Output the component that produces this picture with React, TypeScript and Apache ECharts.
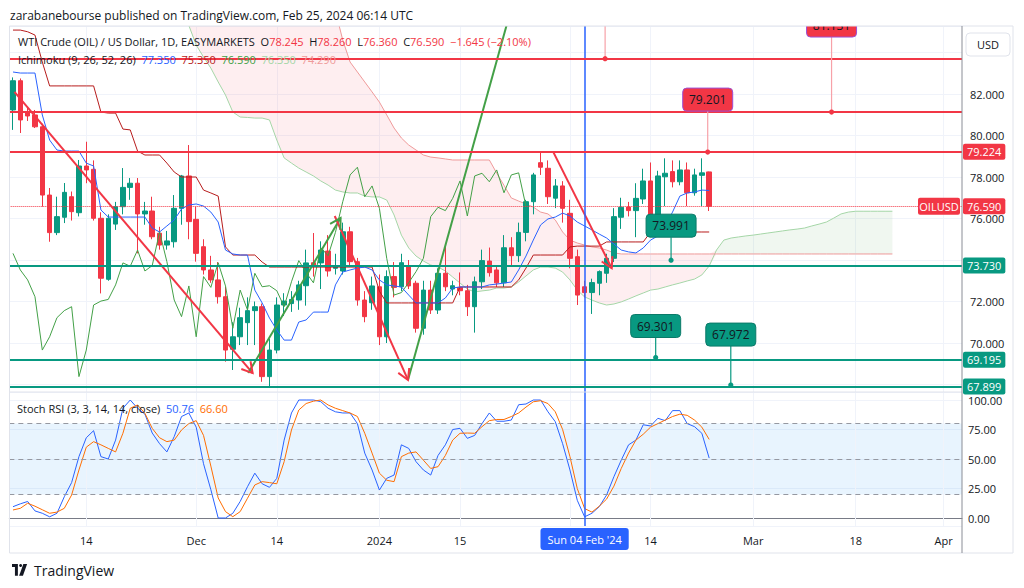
import React, { useEffect, useRef } from "react";
import * as echarts from "echarts";

// ---------------- data ----------------
const firstDate = "2023-11-02";
const holidays = ["2023-12-25", "2024-01-01"];
const barCount = 130;

const opens = [81.23, 82.64, 81.15, 80.99, 80.42, 77.13, 75.32, 76.06, 77.05, 76.28,
  78.53, 78.37, 76.01, 73.07, 75.73, 76.57, 77.5, 77.7, 76.22, 76.36,
  75.29, 74.72, 74.88, 76.49, 78.05, 75.96, 74.64, 73.52, 73.04, 72.23,
  69.7, 70.3, 70.98, 71.56, 71.75, 68.38, 69.66, 71.83, 71.9, 72.07,
  72.76, 73.87, 73.86, 74.43, 73.6, 73.47, 75.36, 73.92, 72.07, 71.94,
  72.71, 70.3, 73.2, 72.71, 73.71, 72.88, 70.71, 72.55, 71.59, 73.36,
  72.6, 72.68, 72.52, 71.75, 72.95, 73.95, 73.52, 72.9, 74.59, 74.21,
  75.33, 76.81, 78.69, 78.42, 76.98, 77.57, 76.25, 74.16, 72.71, 72.43,
  72.88, 73.36, 74.08, 76.06, 76.55, 76.38, 76.94, 77.81, 76.12, 78.01,
  78.26, 77.77, 78.34, 77.24, 78.08, 78.245];
const highs = [82.8, 82.75, 81.4, 81.23, 80.57, 77.47, 77.05, 77.71, 77.3, 78.82,
  79.7, 78.8, 76.3, 76.2, 76.8, 78.43, 77.95, 77.95, 76.8, 77.05,
  75.6, 75.4, 77.13, 78.1, 79.54, 76.57, 75.0, 74.2, 73.9, 72.7,
  71.0, 71.7, 72.2, 72.0, 71.9, 70.2, 72.2, 72.4, 72.5, 73.0,
  74.5, 75.3, 74.9, 75.2, 74.3, 75.8, 75.6, 74.1, 72.5, 73.2,
  73.3, 73.5, 73.9, 74.3, 74.0, 73.0, 73.0, 73.0, 73.6, 74.8,
  73.0, 73.4, 72.8, 73.2, 74.5, 74.6, 73.7, 75.2, 75.1, 75.8,
  76.9, 78.2, 79.22, 78.8, 77.9, 77.8, 76.9, 74.5, 73.0, 73.1,
  73.5, 74.3, 76.5, 77.0, 76.8, 77.7, 78.4, 78.7, 78.3, 78.9,
  78.8, 78.8, 78.7, 78.4, 78.9, 78.26];
const lows = [80.27, 80.12, 80.7, 80.36, 76.57, 74.88, 75.2, 75.78, 75.9, 76.1,
  77.7, 75.9, 72.39, 73.0, 75.45, 76.2, 76.9, 74.32, 75.7, 75.0,
  74.5, 74.5, 74.6, 75.7, 75.0, 73.92, 73.3, 72.9, 71.9, 69.1,
  68.7, 69.9, 69.9, 69.9, 68.13, 67.83, 69.5, 71.3, 71.5, 71.6,
  71.8, 73.2, 72.6, 73.2, 73.3, 73.3, 73.7, 71.8, 71.0, 71.6,
  69.9, 70.0, 72.2, 72.5, 72.6, 70.5, 70.4, 71.4, 71.4, 72.5,
  72.3, 72.3, 71.3, 70.5, 72.6, 73.2, 72.7, 72.7, 73.7, 73.9,
  74.9, 76.2, 78.1, 76.7, 76.5, 75.8, 73.6, 71.83, 72.2, 71.4,
  72.3, 72.9, 73.9, 75.5, 76.1, 75.1, 76.7, 75.9, 75.8, 76.6,
  77.5, 77.6, 76.6, 77.1, 76.6, 76.36];
const closes = [82.64, 80.75, 80.94, 80.42, 77.13, 75.32, 76.09, 77.26, 76.33, 78.53,
  78.34, 76.01, 73.12, 76.01, 76.57, 77.5, 77.7, 76.22, 76.36, 75.12,
  74.72, 74.92, 76.49, 78.05, 75.85, 74.32, 73.52, 73.04, 72.23, 69.66,
  70.3, 71.22, 71.56, 71.75, 68.38, 69.66, 71.83, 72.02, 72.1, 72.8,
  73.86, 73.7, 74.48, 73.47, 73.73, 75.36, 73.92, 72.07, 71.27, 72.75,
  70.3, 73.2, 72.68, 73.87, 72.75, 70.71, 72.55, 71.59, 73.36, 72.71,
  72.76, 72.52, 71.75, 72.95, 73.97, 73.39, 72.9, 74.59, 74.21, 75.33,
  76.81, 78.1, 78.47, 77.05, 77.57, 76.49, 74.08, 72.31, 72.43, 72.91,
  73.44, 74.08, 76.09, 76.54, 76.38, 76.97, 77.81, 76.12, 78.05, 78.18,
  77.77, 78.34, 77.24, 78.1, 78.2, 76.59];

const tenkan = [83.06, 83.01, 83.01, 83.01, 80.99, 79.78, 79.3, 79.25, 79.25, 79.25,
  78.67, 78.53, 76.41, 76.07, 76.07, 76.07, 76.07, 76.07, 76.07, 75.54,
  75.35, 75.64, 75.93, 76.46, 76.65, 76.7, 76.6, 76.31, 75.83, 74.48,
  74.29, 74.24, 74.24, 72.55, 71.93, 71.2, 70.63, 70.14, 70.14, 71.01,
  71.11, 71.49, 71.49, 71.49, 72.8, 73.42, 73.52, 73.61, 73.66, 73.52,
  73.04, 72.8, 72.75, 72.7, 72.31, 71.93, 71.93, 71.93, 71.93, 72.17,
  72.65, 72.7, 72.7, 72.7, 72.7, 72.8, 72.84, 72.89, 72.94, 73.52,
  74.19, 74.96, 75.69, 75.98, 76.07, 76.26, 76.12, 75.83, 75.64, 75.45,
  75.25, 75.06, 74.77, 74.48, 74.39, 74.34, 74.58, 74.96, 75.16, 75.64,
  76.31, 77.08, 77.23, 77.28, 77.37, 77.35];
const kijun = [85.08, 85.08, 85.0, 84.84, 83.54, 82.39, 82.39, 82.39, 82.39, 82.39,
  82.39, 82.39, 81.13, 81.08, 81.08, 80.31, 80.27, 79.25, 79.06, 79.06,
  79.06, 78.67, 78.24, 78.0, 78.0, 78.0, 77.37, 77.23, 77.08, 74.63,
  74.24, 74.24, 74.24, 74.24, 73.9, 73.66, 73.66, 73.66, 73.66, 73.66,
  73.66, 73.66, 73.66, 73.66, 73.66, 73.66, 73.66, 73.66, 73.66, 73.66,
  72.5, 71.93, 71.93, 71.93, 71.93, 71.93, 71.93, 71.93, 71.93, 71.93,
  71.93, 72.7, 72.7, 72.7, 72.7, 72.7, 72.7, 72.7, 72.7, 73.04,
  73.61, 74.24, 74.24, 74.24, 74.24, 74.24, 74.63, 74.67, 74.67, 74.67,
  74.67, 74.87, 74.87, 74.87, 74.87, 74.87, 74.87, 75.35, 75.35, 75.35,
  75.35, 75.35, 75.35, 75.35, 75.35, 75.35];
const chikouShift = 25;

const senkouStart = 22;
const senkouA = [87.0, 86.0, 85.3, 84.36, 83.78, 83.25, 82.58, 81.95,
  81.13, 80.89, 80.87, 80.84, 80.84, 80.75, 79.78, 78.92, 78.67, 78.43,
  78.24, 78.05, 77.81, 77.61, 77.37, 77.28, 77.23, 77.23, 77.08, 77.04,
  77.04, 76.89, 76.17, 75.2, 74.58, 74.19, 73.95, 73.76, 73.66, 73.47,
  73.18, 72.89, 72.6, 72.46, 72.51, 72.55, 72.65, 72.65, 72.7, 72.94,
  73.23, 73.52, 73.66, 73.66, 73.61, 73.42, 73.04, 72.55, 72.22, 72.07,
  71.93, 71.83, 71.88, 71.98, 72.12, 72.27, 72.41, 72.55, 72.6, 72.7,
  72.8, 72.89, 72.99, 73.08, 73.28, 73.71, 74.48, 74.96, 75.06, 75.11,
  75.16, 75.2, 75.25, 75.3, 75.35, 75.4, 75.45, 75.49, 75.54, 75.64,
  75.73, 75.83, 76.02, 76.22, 76.31, 76.35, 76.35, 76.35, 76.35, 76.35, 76.35];
const senkouB = [87, 87, 87, 87, 87, 87, 87, 87,
  87, 87, 87, 87, 87, 87, 87, 87, 87, 87,
  87, 87, 87, 87, 86.0, 84.6, 83.54, 83.06, 82.58, 82.1,
  81.61, 80.99, 80.36, 79.88, 79.54, 79.3, 79.06, 78.96, 78.92, 78.87,
  78.82, 78.82, 78.82, 78.82, 78.82, 78.82, 78.19, 77.6, 76.99, 76.84,
  76.7, 76.55, 76.31, 76.22, 75.93, 75.35, 74.96, 74.82, 74.72, 74.63,
  74.58, 74.48, 74.34, 74.29, 74.29, 74.29, 74.29, 74.29, 74.29, 74.29,
  74.29, 74.29, 74.29, 74.29, 74.29, 74.29, 74.29, 74.29, 74.29, 74.29,
  74.29, 74.29, 74.29, 74.29, 74.29, 74.29, 74.29, 74.29, 74.29, 74.29,
  74.29, 74.29, 74.29, 74.29, 74.29, 74.29, 74.29, 74.29, 74.29, 74.29, 74.29];

const stochK = [9.6, 12, 14, 6, 4, 1, 4, 18, 30, 52,
  68, 74, 52, 50, 66, 93, 100, 93, 88, 72,
  63, 56, 69, 86, 89, 77, 46, 24, 0, 0,
  4, 14, 26.5, 38, 29, 26, 33.6, 66, 89, 100,
  100, 100, 98.6, 93, 90, 89, 89, 80, 55, 40.7,
  23.7, 33.6, 36.4, 62, 59, 47.7, 40.7, 36.4, 53, 62,
  75, 76, 67.5, 70, 80, 89, 82, 82, 83, 96,
  96.6, 100, 100, 90, 81.6, 63, 40.7, 15, 1, 4,
  9.6, 19.5, 35, 49, 62, 66, 79, 78, 84.5, 82.5,
  91, 91, 80, 77.4, 71.8, 50.76];
const stochD = [6.8, 8.2, 12.5, 10, 7, 4, 5, 8.2, 19.5, 40.7,
  60, 64.7, 62, 59, 56, 71.8, 93, 95.8, 88.7, 76,
  68, 64.7, 66, 74.6, 80, 82.5, 70, 44, 17, 5.4,
  1.1, 5.4, 16.7, 28, 30.8, 30, 29, 47.7, 74.6, 91.5,
  97, 99, 100, 95.8, 93, 91, 89, 86, 71.8, 55,
  38, 32, 30.8, 52, 55, 56, 49, 42, 43.5, 53,
  66, 71.8, 72, 71.8, 77.4, 82.5, 83.5, 83.5, 86, 89,
  94, 98.5, 99.4, 97, 90, 75, 52, 25, 8, 5,
  10, 16, 27, 42, 55, 66, 71, 77, 80, 83,
  86, 88, 87, 83, 77, 66.6];

const redLevels = [83.70, 81.13, 79.224];
const redLevelTagged = [false, false, true];
const greenLevels = [73.73, 69.195, 67.899];
const lastPrice = 76.59;
const crosshairBar = 78;
const crosshairText = "Sun 04 Feb '24";

// date -> tick text ("" = grid line only, label hidden under the crosshair tag)
const tickLabels: Record<string, string> = {
  "2023-11-14": "14", "2023-12-01": "Dec", "2023-12-14": "14", "2024-01-02": "2024",
  "2024-01-15": "15", "2024-02-01": "", "2024-02-14": "14", "2024-03-01": "Mar",
  "2024-03-18": "18", "2024-04-01": "Apr",
};
const hiddenPriceTicks = [84, 74, 68];

// hand-drawn trend lines: [barPosition, price]
const trendDownA = [[0.2, 82.1], [32.7, 68.55]];
const trendUpB = [[32.1, 68.55], [44.7, 76.02]];
const trendDownC = [[43.9, 76.12], [53.9, 68.22]];
const trendUpD = [[53.9, 68.22], [70, 88.67]];
const trendDownE = [[73.7, 79.224], [81.7, 73.61]];

// price notes
const noteBars = [94.8, 89.8, 87.7, 97.95, 111.7, 80.8];
const noteValues = [79.201, 73.991, 69.301, 67.972, 81.131, 83.70];
const noteIsRed = [true, false, false, false, true, true];

// ---------------- styling / layout ----------------
const FONT = "'Open Sans', 'Noto Sans', sans-serif";
const RED = "#F23645";
const GREEN = "#089981";
const noteLift = [41, 23, 20, 39, 75, 40];
const plotTop = 26, mainBottom = 392, stochBottom = 526, axisRightX = 962;

function buildDates(): string[] {
  const out: string[] = [];
  const d = new Date(firstDate + "T00:00:00Z");
  while (out.length < barCount) {
    const iso = d.toISOString().slice(0, 10);
    if (d.getUTCDay() !== 6 && holidays.indexOf(iso) < 0) out.push(iso);
    d.setUTCDate(d.getUTCDate() + 1);
  }
  return out;
}

export default function App() {
  const ref = useRef<HTMLDivElement>(null);

  useEffect(() => {
    const el = ref.current;
    if (!el) return;
    const chart = echarts.init(el, undefined, { renderer: "svg" });
    const dates = buildDates();
    const n = dates.length;
    const nPast = closes.length;

    const yMin = 82 - (mainBottom - 94) / 20.75;
    const yMax = 82 + (94 - plotTop) / 20.75;
    const sPx = (518 - 400) / 100;
    const sMin = -(stochBottom - 518) / sPx;
    const sMax = 100 + (400 - mainBottom) / sPx;

    const candleData = opens.map((o, i) => [o, closes[i], lows[i], highs[i]]);
    const pad = (arr: number[], start: number) =>
      dates.map((_, i) => { const j = i - start; return j >= 0 && j < arr.length ? arr[j] : "-"; });
    const tenkanData = pad(tenkan, 0);
    const kijunData = pad(kijun, 0);
    const chikouData = dates.map((_, i) => (i + chikouShift < nPast ? closes[i + chikouShift] : "-"));
    const aData = pad(senkouA, senkouStart) as any[];
    const bData = pad(senkouB, senkouStart) as any[];
    const has = (i: number) => aData[i] !== "-" && bData[i] !== "-";
    const bull = (i: number) => has(i) && aData[i] > bData[i];
    const redBase: any[] = [], redDiff: any[] = [], greenBase: any[] = [], greenDiff: any[] = [];
    for (let i = 0; i < n; i++) {
      const lo = has(i) ? Math.min(aData[i], bData[i]) : 0;
      const df = has(i) ? Math.abs(aData[i] - bData[i]) : 0;
      const inRed = has(i) && (!bull(i) || (i > 0 && has(i - 1) && !bull(i - 1)));
      const inGreen = bull(i);
      redBase.push(inRed ? lo : "-"); redDiff.push(inRed ? df : "-");
      greenBase.push(inGreen ? lo : "-"); greenDiff.push(inGreen ? df : "-");
    }

    const gridDates = Object.keys(tickLabels);
    const vGrid = {
      silent: true, symbol: "none", z: 1, label: { show: false },
      lineStyle: { color: "#F0F3FA", width: 1, type: "solid" },
      data: gridDates.map((d) => ({ xAxis: d })),
    };
    const tag = (v: number, c: string) => ({
      show: true, position: "end", distance: 1, formatter: v.toFixed(3),
      color: "#ffffff", backgroundColor: c, padding: [3, 4, 2, 4], borderRadius: 2,
      fontSize: 11, fontFamily: FONT,
    });
    const priceLines: any[] = [];
    redLevels.forEach((v, i) => priceLines.push({
      yAxis: v, lineStyle: { color: RED, width: 2, type: "solid" },
      label: redLevelTagged[i] ? tag(v, RED) : { show: false },
    }));
    greenLevels.forEach((v) => priceLines.push({
      yAxis: v, lineStyle: { color: GREEN, width: 2, type: "solid" }, label: tag(v, GREEN),
    }));
    priceLines.push({ yAxis: lastPrice, lineStyle: { color: RED, width: 1, type: "dotted" }, label: tag(lastPrice, RED) });

    const trendSeries = (data: number[][], color: string, extra: any = {}) => ({
      type: "line", xAxisIndex: 2, yAxisIndex: 0, data, symbol: "none", silent: true,
      lineStyle: { color, width: 2 }, clip: true, z: 4, ...extra,
    });
    const flatLine = (data: any[], color: string, width = 1, extra: any = {}) => ({
      type: "line", xAxisIndex: 0, yAxisIndex: 0, data, symbol: "none", silent: true,
      lineStyle: { color, width }, connectNulls: false, ...extra,
    });

    const option: any = {
      animation: false,
      backgroundColor: "#ffffff",
      textStyle: { fontFamily: FONT },
      grid: [
        { left: 9.33, right: 1024 - axisRightX, top: plotTop, height: mainBottom - plotTop },
        { left: 9.33, right: 1024 - axisRightX, top: mainBottom, height: stochBottom - mainBottom },
      ],
      xAxis: [
        { type: "category", gridIndex: 0, data: dates, axisLine: { show: false }, axisTick: { show: false },
          axisLabel: { show: false }, splitLine: { show: false } },
        { type: "category", gridIndex: 1, data: dates,
          axisLine: { show: true, lineStyle: { color: "#787B86", width: 1 } }, axisTick: { show: false },
          axisLabel: { show: true, interval: (_i: number, v: string) => !!tickLabels[v],
            formatter: (v: string) => tickLabels[v] || "", color: "#131722", fontSize: 11, margin: 9,
            fontFamily: FONT, hideOverlap: false },
          splitLine: { show: false } },
        { type: "value", gridIndex: 0, min: -0.5, max: n - 0.5, show: false },
      ],
      yAxis: [
        { type: "value", gridIndex: 0, position: "right", min: yMin, max: yMax, splitNumber: 9,
          minInterval: 2, maxInterval: 2, axisLine: { show: false }, axisTick: { show: false },
          axisLabel: { color: "#131722", fontSize: 11, margin: 8, fontFamily: FONT,
            showMinLabel: false, showMaxLabel: false,
            formatter: (v: number) => { const r = Math.round(v); return Math.abs(v - r) < 1e-6 && r % 2 === 0 && hiddenPriceTicks.indexOf(r) < 0 ? v.toFixed(3) : ""; } },
          splitLine: { lineStyle: { color: "#F0F3FA", width: 1 } } },
        { type: "value", gridIndex: 1, position: "right", min: sMin, max: sMax, splitNumber: 4,
          minInterval: 25, maxInterval: 25, axisLine: { show: false }, axisTick: { show: false },
          axisLabel: { color: "#131722", fontSize: 11, margin: 6, fontFamily: FONT,
            showMinLabel: false, showMaxLabel: false,
            formatter: (v: number) => (v >= -1e-6 && v <= 100 + 1e-6 && Math.abs(v / 25 - Math.round(v / 25)) < 1e-6 ? v.toFixed(2) : "") },
          splitLine: { lineStyle: { color: "#F0F3FA", width: 1 } } },
      ],
      series: [
        flatLine(redBase, "rgba(0,0,0,0)", 0, { stack: "cloudR", markLine: vGrid, z: 1 }),
        flatLine(redDiff, "rgba(0,0,0,0)", 0, { stack: "cloudR", areaStyle: { color: "rgba(242,54,69,0.12)" }, z: 1 }),
        flatLine(greenBase, "rgba(0,0,0,0)", 0, { stack: "cloudG", z: 1 }),
        flatLine(greenDiff, "rgba(0,0,0,0)", 0, { stack: "cloudG", areaStyle: { color: "rgba(67,160,71,0.12)" }, z: 1 }),
        flatLine(aData, "#A5D6A7", 1, { z: 1 }),
        flatLine(bData, "#EF9A9A", 1, { z: 1 }),
        flatLine(chikouData, "#43A047", 1),
        flatLine(kijunData, "#B71C1C", 1),
        flatLine(tenkanData, "#2962FF", 1),
        {
          type: "candlestick", xAxisIndex: 0, yAxisIndex: 0, data: candleData, barWidth: 5, silent: true,
          itemStyle: { color: GREEN, color0: RED, borderColor: GREEN, borderColor0: RED, borderWidth: 1 },
          markLine: { silent: true, symbol: "none", label: { show: false },
            lineStyle: { color: "#2962FF", width: 1.5, type: "solid" }, data: [{ xAxis: dates[crosshairBar] }] },
        },
        trendSeries(trendDownA, RED, { markLine: { silent: true, symbol: "none", z: 6, data: priceLines } }),
        trendSeries(trendUpB, "#43A047"),
        trendSeries(trendDownC, RED),
        trendSeries(trendUpD, "#43A047"),
        trendSeries(trendDownE, RED),
        {
          type: "line", xAxisIndex: 1, yAxisIndex: 1, data: stochK, symbol: "none", silent: true,
          lineStyle: { color: "#2962FF", width: 1 }, z: 3,
          markArea: { silent: true, itemStyle: { color: "rgba(33,150,243,0.1)" }, data: [[{ yAxis: 20 }, { yAxis: 80 }]] },
          markLine: { silent: true, symbol: "none", data: [
            { yAxis: 80, lineStyle: { color: "#9598A1", width: 1, type: [5, 4] }, label: { show: false } },
            { yAxis: 50, lineStyle: { color: "#9598A1", width: 1, type: [5, 4] }, label: { show: false } },
            { yAxis: 20, lineStyle: { color: "#9598A1", width: 1, type: [5, 4] }, label: { show: false } },
            { xAxis: dates[crosshairBar], lineStyle: { color: "#2962FF", width: 1.5, type: "solid" },
              label: { show: true, position: "start", distance: 2, formatter: crosshairText, color: "#ffffff",
                backgroundColor: "#2962FF", padding: [6, 7, 5, 7], borderRadius: 3, fontSize: 11, fontFamily: FONT } },
          ] },
        },
        {
          type: "line", xAxisIndex: 1, yAxisIndex: 1, data: stochD, symbol: "none", silent: true,
          lineStyle: { color: "#FF6D00", width: 1 }, z: 3, markLine: vGrid,
        },
      ],
    };
    chart.setOption(option);

    // ------ overlay drawings placed through the chart's own scales ------
    const px = (x: number, y: number) => {
      const xp = chart.convertToPixel({ xAxisIndex: 2 } as any, x) as unknown as number;
      const yp = chart.convertToPixel({ yAxisIndex: 0 } as any, y) as unknown as number;
      return [xp, yp];
    };
    const g: any[] = [];
    const txt = (text: string, x: number, y: number, fill: string, size = 11, extra: any = {}) => ({
      type: "text", x, y, z: 160, silent: true,
      style: { text, fill, fontSize: size, fontFamily: FONT, textAlign: "left", textVerticalAlign: "middle",
        align: "left", verticalAlign: "middle", ...extra },
    });
    const richStyle = (c: string) => ({ fill: c, color: c, fontSize: 11, fontFamily: FONT });
    const richTxt = (text: string, x: number, y: number, rich: Record<string, string>) => {
      const r: any = {};
      Object.keys(rich).forEach((k) => { r[k] = richStyle(rich[k]); });
      return { type: "text", x, y, z: 160, silent: true,
        style: { text, rich: r, fill: "#131722", fontSize: 11, fontFamily: FONT, textAlign: "left",
          textVerticalAlign: "middle", align: "left", verticalAlign: "middle" } };
    };

    // arrow heads
    [[trendDownA, RED], [trendUpB, "#43A047"], [trendDownC, RED], [trendDownE, RED]].forEach(([seg, col]: any) => {
      const p1 = px(seg[0][0], seg[0][1]);
      const p2 = px(seg[1][0], seg[1][1]);
      const dx = p1[0] - p2[0], dy = p1[1] - p2[1];
      const len = Math.hypot(dx, dy) || 1;
      const ux = dx / len, uy = dy / len;
      const L = 12, a = Math.PI / 6;
      const r1 = [ux * Math.cos(a) - uy * Math.sin(a), ux * Math.sin(a) + uy * Math.cos(a)];
      const r2 = [ux * Math.cos(-a) - uy * Math.sin(-a), ux * Math.sin(-a) + uy * Math.cos(-a)];
      g.push({ type: "polyline", z: 110, silent: true,
        shape: { points: [[p2[0] + r1[0] * L, p2[1] + r1[1] * L], p2, [p2[0] + r2[0] * L, p2[1] + r2[1] * L]] },
        style: { stroke: col, lineWidth: 2, fill: null } });
    });

    // price notes
    noteBars.forEach((b, i) => {
      const p = px(b, noteValues[i]);
      const fill = noteIsRed[i] ? RED : GREEN;
      const stem = noteIsRed[i] ? "#F7A1A8" : GREEN;
      const bottom = p[1] - noteLift[i];
      const w = 50, h = 23;
      g.push({ type: "line", z: 118, silent: true, shape: { x1: p[0], y1: bottom, x2: p[0], y2: p[1] },
        style: { stroke: stem, lineWidth: 1.2 } });
      g.push({ type: "circle", z: 119, silent: true, shape: { cx: p[0], cy: p[1], r: 2.6 }, style: { fill } });
      g.push({ type: "rect", z: 120, silent: true, shape: { x: p[0] - w / 2, y: bottom - h, width: w, height: h, r: 4 },
        style: { fill, stroke: noteIsRed[i] ? "#9C4FD6" : "#0B7A69", lineWidth: 1 } });
      g.push({ type: "text", z: 121, silent: true, x: p[0], y: bottom - h / 2,
        style: { text: noteValues[i].toFixed(3), fill: "#131722", fontSize: 12, fontFamily: FONT,
          textAlign: "center", textVerticalAlign: "middle", align: "center", verticalAlign: "middle" } });
    });

    // OILUSD tag next to last price
    const lastY = px(0, lastPrice)[1];
    g.push({ type: "rect", z: 130, silent: true, shape: { x: 918, y: lastY - 8.5, width: 42, height: 17, r: 2 }, style: { fill: RED } });
    g.push(txt("OILUSD", 939, lastY, "#ffffff", 11, { textAlign: "center", align: "center" }));

    // header cover + texts
    g.push({ type: "rect", z: 150, silent: true, shape: { x: 0, y: 0, width: 1024, height: plotTop }, style: { fill: "#ffffff" } });
    g.push(txt("zarabanebourse published on TradingView.com, Feb 25, 2024 06:14 UTC", 10, 15, "#131722", 12));

    // frame & axis lines
    const frame = "#E0E3EB";
    const ln = (x1: number, y1: number, x2: number, y2: number, stroke: string, z = 155) =>
      ({ type: "line", z, silent: true, shape: { x1, y1, x2, y2 }, style: { stroke, lineWidth: 1 } });
    g.push(ln(9.5, plotTop, 1013, plotTop, frame));
    g.push(ln(9.5, 553, 1013, 553, frame));
    g.push(ln(9.5, plotTop, 9.5, 553, frame));
    g.push(ln(1013, plotTop, 1013, 553, frame));
    g.push(ln(9.5, mainBottom, axisRightX, mainBottom, frame));
    g.push(ln(axisRightX, plotTop, axisRightX, 553, "#8A8D96", 156));

    // USD box
    g.push({ type: "rect", z: 157, silent: true, shape: { x: 966, y: 33, width: 44, height: 23, r: 4 }, style: { fill: "#ffffff", stroke: frame, lineWidth: 1 } });
    g.push(txt("USD", 988, 44.5, "#131722", 11, { textAlign: "center", align: "center" }));

    // legends
    g.push(richTxt(
      "{d|WTI Crude (OIL) / US Dollar, 1D, EASYMARKETS}  {d|O}{r|78.245}  {d|H}{r|78.260}  {d|L}{r|76.360}  {d|C}{r|76.590}  {r|\u22121.645 (\u22122.10%)}",
      18, 41, { d: "#131722", r: RED }));
    g.push(richTxt(
      "{d|Ichimoku (9, 26, 52, 26)}  {t|77.350}  {k|75.350}  {c|76.590}  {a|76.350}  {b|74.290}",
      18, 59, { d: "#131722", t: "#2962FF", k: "#B71C1C", c: "#43A047", a: "#A5D6A7", b: "#EF9A9A" }));
    g.push(richTxt(
      "{d|Stoch RSI (3, 3, 14, 14, close)}  {k|50.76}  {o|66.60}",
      17, 408, { d: "#131722", k: "#2962FF", o: "#FF6D00" }));

    // TradingView logo + wordmark
    const lx = 12, ly = 564, s = 0.42;
    const tp = (pts: number[][]) => pts.map(([x, y]) => [lx + x * s, ly + y * s]);
    g.push({ type: "polygon", z: 160, silent: true, shape: { points: tp([[0, 0], [14, 0], [14, 28], [7, 28], [7, 7], [0, 7]]) }, style: { fill: "#131722" } });
    g.push({ type: "circle", z: 160, silent: true, shape: { cx: lx + 20.5 * s, cy: ly + 3.5 * s, r: 3.5 * s }, style: { fill: "#131722" } });
    g.push({ type: "polygon", z: 160, silent: true, shape: { points: tp([[27, 0], [36, 0], [26, 28], [17, 28]]) }, style: { fill: "#131722" } });
    g.push(txt("TradingView", 34, 570, "#131722", 14, { fontWeight: 500 }));

    chart.setOption({ graphic: g });

    return () => chart.dispose();
  }, []);

  return (
    <div
      ref={ref}
      style={{ position: "fixed", left: 0, top: 0, width: 1024, height: 588, background: "#ffffff" }}
    />
  );
}
